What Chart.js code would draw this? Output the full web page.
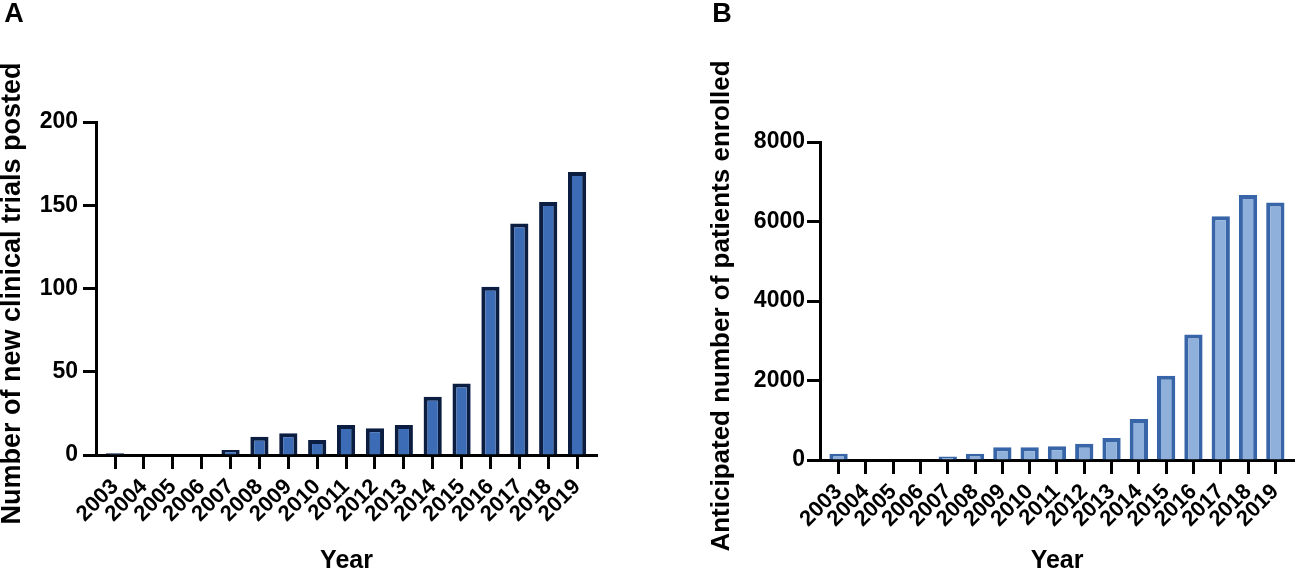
<!DOCTYPE html>
<html>
<head>
<meta charset="utf-8">
<script src="https://cdn.jsdelivr.net/npm/chart.js@4.4.1/dist/chart.umd.min.js"></script>
<style>
  html, body { margin: 0; padding: 0; background: #fff; overflow: hidden; }
  #panelA { position: absolute; left: 0; top: 0; width: 620px; height: 570px; }
  #panelB { position: absolute; left: 690px; top: 0; width: 609px; height: 570px; }
</style>
</head>
<body>
<div id="panelA"><canvas id="trialsChart"></canvas></div>
<div id="panelB"><canvas id="patientsChart"></canvas></div>
<script>
// data
const years = [2003, 2004, 2005, 2006, 2007, 2008, 2009, 2010, 2011,
               2012, 2013, 2014, 2015, 2016, 2017, 2018, 2019];
const newTrials = [1, 0, 0, 0, 3, 11, 13, 9, 18, 16, 18, 35, 43, 101, 139, 152, 170];
const patients = [160, 0, 0, 0, 85, 160, 318, 318, 343, 410, 552, 1029, 2117, 3155, 6134, 6669, 6478];
const trialsTicks = [0, 50, 100, 150, 200];
const patientsTicks = [0, 2000, 4000, 6000, 8000];

Chart.defaults.font.family = "'Liberation Sans', Arial, sans-serif";
Chart.defaults.font.weight = "bold";
Chart.defaults.color = "#000";

// panel letter + y axis title (drawn by hand so the long title is not squeezed)
function sideText(letter, letterX, title, titleX, size) {
    return {
        id: "sideText",
        afterDraw(chart) {
            const ctx = chart.ctx;
            const area = chart.chartArea;
            ctx.save();
            ctx.fillStyle = "#000";
            ctx.textAlign = "center";
            ctx.textBaseline = "middle";
            ctx.font = "bold 27px 'Liberation Sans', Arial, sans-serif";
            ctx.fillText(letter, letterX, 15);
            ctx.font = "bold " + size + "px 'Liberation Sans', Arial, sans-serif";
            ctx.translate(titleX, (area.top + area.bottom) / 2 + 5);
            ctx.rotate(-Math.PI / 2);
            ctx.fillText(title, 0, 0);
            ctx.restore();
        }
    };
}

function makeChart(id, values, yTicks, cfg) {
    const ctx = document.getElementById(id).getContext("2d");
    return new Chart(ctx, {
        type: "bar",
        data: {
            datasets: [{
                data: years.map((yr, i) => ({ x: yr, y: values[i] })),
                backgroundColor: cfg.fill,
                borderColor: cfg.stroke,
                borderWidth: 4,
                barPercentage: cfg.barPct,
                categoryPercentage: 1,
            }],
        },
        options: {
            responsive: true,
            maintainAspectRatio: false,
            animation: false,
            layout: { padding: { top: cfg.top, right: cfg.right, bottom: 0, left: 0 } },
            plugins: { legend: { display: false }, tooltip: { enabled: false } },
            scales: {
                x: {
                    type: "linear",
                    min: cfg.xMin,
                    max: cfg.xMax,
                    offset: false,
                    z: 1,
                    afterBuildTicks: (scale) => {
                        scale.ticks = years.map((v) => ({ value: v }));
                    },
                    afterFit: (scale) => { scale.height = cfg.xHeight; },
                    border: { color: "#000", width: 3 },
                    grid: {
                        offset: false,
                        drawOnChartArea: false,
                        tickLength: 14,
                        tickWidth: 3,
                        tickColor: "#000",
                    },
                    ticks: {
                        autoSkip: false,
                        minRotation: 45,
                        maxRotation: 45,
                        padding: 5,
                        font: { size: 22 },
                        callback: (v) => String(v),
                    },
                    title: {
                        display: true,
                        text: "Year",
                        font: { size: 25, lineHeight: 1 },
                        padding: { top: 0, bottom: -4 },
                    },
                },
                y: {
                    min: 0,
                    max: yTicks[yTicks.length - 1],
                    z: 1,
                    afterBuildTicks: (scale) => {
                        scale.ticks = yTicks.map((v) => ({ value: v }));
                    },
                    afterFit: (scale) => { scale.width = cfg.yWidth; },
                    border: { color: "#000", width: 3 },
                    grid: {
                        drawOnChartArea: false,
                        tickLength: 13,
                        tickWidth: 3,
                        tickColor: "#000",
                    },
                    ticks: {
                        padding: cfg.yPad,
                        font: { size: 23 },
                        callback: (v) => String(v),
                    },
                },
            },
        },
        plugins: [sideText(cfg.letter, cfg.letterX, cfg.title, cfg.titleX, cfg.titleSize)],
    });
}

makeChart("trialsChart", newTrials, trialsTicks, {
    fill: "#3b6cb5", stroke: "#0c1d42", barPct: 0.63,
    top: 122, right: 23, xHeight: 115, yWidth: 96, yPad: 5,
    xMin: 2002.34, xMax: 2019.69,
    letter: "A", letterX: 14,
    title: "Number of new clinical trials posted", titleX: 13, titleSize: 27,
});

makeChart("patientsChart", patients, patientsTicks, {
    fill: "#90b0dc", stroke: "#3865a7", barPct: 0.67,
    top: 142, right: 0, xHeight: 110, yWidth: 130, yPad: 2,
    xMin: 2002.32, xMax: 2019.69,
    letter: "B", letterX: 32,
    title: "Anticipated number of patients enrolled", titleX: 32, titleSize: 26,
});
</script>
</body>
</html>
